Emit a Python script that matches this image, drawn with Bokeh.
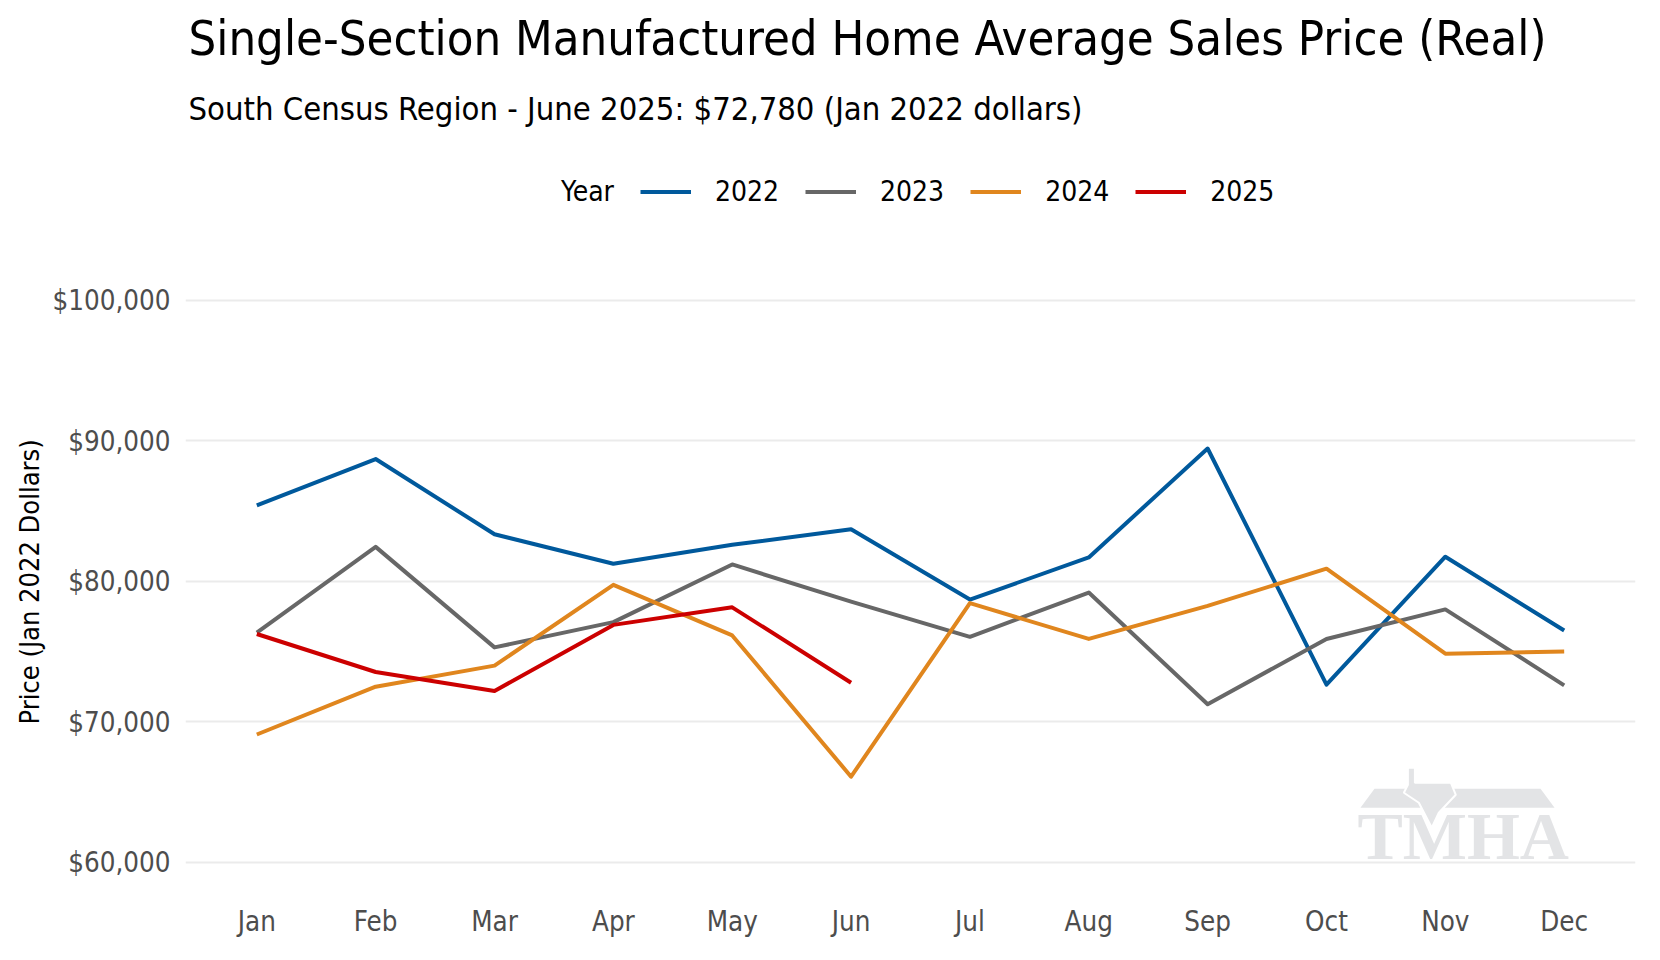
from bokeh.plotting import figure
from bokeh.models import (Range1d, FixedTicker, NumeralTickFormatter, Title, Legend, LegendItem)
from bokeh.embed import file_html
from bokeh.resources import INLINE
from bokeh.core.properties import value

# ---------------- data ----------------
months = ["Jan", "Feb", "Mar", "Apr", "May", "Jun", "Jul", "Aug", "Sep", "Oct", "Nov", "Dec"]
years = ["2022", "2023", "2024", "2025"]
price_2022 = [85400, 88700, 83350, 81250, 82600, 83700, 78700, 81700, 89450, 72650, 81750, 76500]
price_2023 = [76350, 82450, 75300, 77100, 81200, 78550, 76050, 79200, 71250, 75900, 78000, 72600]
price_2024 = [69100, 72500, 74000, 79750, 76150, 66100, 78450, 75900, 78250, 80900, 74850, 75000]
price_2025 = [76250, 73550, 72200, 76900, 78150, 72780]
y_ticks = [60000, 70000, 80000, 90000, 100000]

series = {"2022": price_2022, "2023": price_2023, "2024": price_2024, "2025": price_2025}
colors = {"2022": "#00599C", "2023": "#676767", "2024": "#E0861E", "2025": "#CC0000"}

FONT = "DejaVu Sans Condensed"

# layout: data panel 58k..102k spans 620px; the frame is extended upward to hold the legend
W, H = 1644, 944
BORDER_L, BORDER_R, BORDER_B = 185, 9, 54
PANEL_TOP, FRAME_TOP = 270, 140
Y_LO, Y_HI_PANEL = 58000, 102000
PANEL_PX = H - BORDER_B - PANEL_TOP
Y_HI = Y_HI_PANEL + (PANEL_TOP - FRAME_TOP) * (Y_HI_PANEL - Y_LO) / PANEL_PX
FRAME_H = H - BORDER_B - FRAME_TOP

p = figure(width=W, height=H, x_range=Range1d(0.4, 12.6), y_range=Range1d(Y_LO, Y_HI),
           output_backend="svg", toolbar_location=None, title=None,
           min_border_left=BORDER_L, min_border_right=BORDER_R, min_border_top=FRAME_TOP,
           min_border_bottom=BORDER_B,
           outline_line_color=None, background_fill_color="white", border_fill_color="white")

# ---------------- watermark (decoration) ----------------
WM = "#E3E4E6"
p.patch(x=[10.286, 10.404, 11.801, 11.919], y=[63889, 65238, 65238, 63889],
        fill_color=WM, line_color=None)
p.patch(x=[10.685, 10.744, 10.744, 11.047, 11.088, 10.945, 10.886, 10.777, 10.651, 10.685],
        y=[66728, 66728, 65664, 65664, 64812, 63535, 62470, 64244, 64954, 65522],
        fill_color=WM, line_color="white", line_width=2)
p.text(x=[10.26], y=[61850], text=["TMHA"], text_font=value("Liberation Serif"),
       text_font_style="bold", text_font_size="68px", text_color=WM,
       text_baseline="alphabetic", text_align="left")

# ---------------- series ----------------
key_renderer = p.line(x=[], y=[])  # label-only legend entry ("Year")
legend_items = [LegendItem(label="Year", renderers=[key_renderer])]
for yr in years:
    vals = series[yr]
    xs = list(range(1, len(vals) + 1))
    r = p.line(x=xs, y=vals, line_color=colors[yr], line_width=4, line_join="round")
    legend_items.append(LegendItem(label=yr, renderers=[r]))

# ---------------- axes ----------------
p.xaxis.ticker = FixedTicker(ticks=list(range(1, len(months) + 1)))
p.xaxis.major_label_overrides = {i + 1: m for i, m in enumerate(months)}
p.yaxis.ticker = FixedTicker(ticks=y_ticks)
p.yaxis.formatter = NumeralTickFormatter(format="$0,0")
for ax in (p.xaxis, p.yaxis):
    ax.axis_line_color = None
    ax.major_tick_line_color = None
    ax.minor_tick_line_color = None
    ax.major_tick_out = 0
    ax.major_tick_in = 0
    ax.minor_tick_out = 0
    ax.minor_tick_in = 0
    ax.major_label_text_font = FONT
    ax.major_label_text_font_size = "27.5px"
    ax.major_label_text_color = "#4D4D4D"
p.xaxis.major_label_standoff = 14
p.yaxis.major_label_standoff = 15

p.xgrid.visible = False
p.ygrid.grid_line_color = "#EBEBEB"
p.ygrid.grid_line_width = 2

# y-axis title, placed along the 58k..102k panel (measured from the frame bottom)
ytitle = Title(text="Price (Jan 2022 Dollars)", align="left", offset=166,
               text_font=FONT, text_font_size="27px",
               text_font_style="normal", text_color="black", standoff=10)
p.add_layout(ytitle, "left")

# ---------------- legend (top strip of the frame) ----------------
legend = Legend(items=legend_items, orientation="horizontal", location=(301, 682),
                label_text_font=FONT, label_text_font_size="28px", label_text_color="black",
                glyph_width=51, glyph_height=33, label_standoff=24, spacing=26,
                margin=0, padding=0, border_line_color=None, background_fill_alpha=0)
p.add_layout(legend, "center")

# ---------------- titles ----------------
subtitle = Title(text="South Census Region - June 2025: $72,780 (Jan 2022 dollars)",
                 align="left", offset=3, text_font=FONT, text_font_size="32.5px",
                 text_font_style="normal", text_color="black", standoff=29)
p.add_layout(subtitle, "above")
main_title = Title(text="Single-Section Manufactured Home Average Sales Price (Real)",
                   align="left", offset=3, text_font=FONT, text_font_size="48.6px",
                   text_font_style="normal", text_color="black", standoff=15)
p.add_layout(main_title, "above")

open("out.html", "w").write(file_html(p, INLINE))
